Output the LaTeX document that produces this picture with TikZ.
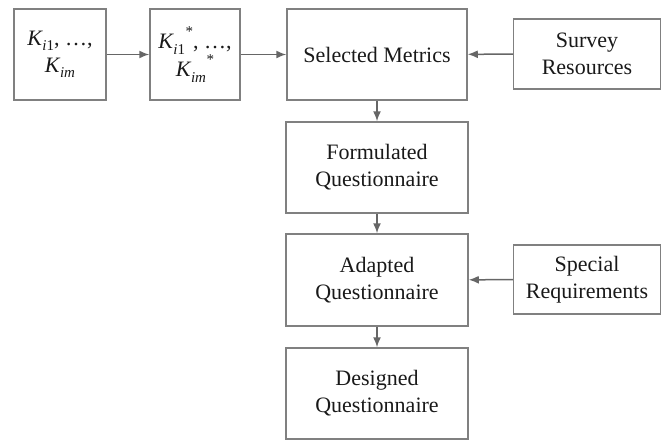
\documentclass[tikz,border=0pt]{standalone}
\usepackage{fontspec}
\setmainfont{Liberation Serif}
\newfontfamily\tnr{Liberation Serif}
\usetikzlibrary{arrows.meta}
\newcommand{\Ksub}[1]{\textit{K}\kern-0.5pt\raisebox{-0.25em}{\fontsize{15}{15}\selectfont #1}}
\newcommand{\Kstar}[1]{\textit{K}\kern-0.5pt\raisebox{-0.25em}{\fontsize{15}{15}\selectfont #1}\kern0.5pt\raisebox{0.55em}{\fontsize{15}{15}\selectfont *}}
\begin{document}
\begin{tikzpicture}[x=1pt,y=-1pt,
  box/.style={draw=black!50,line width=1.5pt,rectangle,inner sep=0pt,align=center,
    font=\tnr\fontsize{22}{27}\selectfont,text=black!90},
  conn/.style={draw=black!60,line width=1.5pt,-{Latex[length=10pt,width=8pt]}}]
\useasboundingbox (0,0) rectangle (661,440);
\node[box,minimum width=92pt,minimum height=91pt] (k1) at (60,54.5) {\Ksub{\textit{i}1}, …,\\ \Ksub{\textit{im}}};
\node[box,minimum width=90pt,minimum height=91pt] (k2) at (195,54.5) {\Kstar{\textit{i}1}, …,\\ \Kstar{\textit{im}}};
\node[box,minimum width=180pt,minimum height=91pt] (sm) at (377,54.5) {Selected Metrics};
\node[box,minimum width=147pt,minimum height=70pt] (sr) at (587,54) {Survey\\Resources};
\node[box,minimum width=182pt,minimum height=91pt] (fq) at (377,167.5) {Formulated\\Questionnaire};
\node[box,minimum width=182pt,minimum height=92pt] (aq) at (377,280) {Adapted\\Questionnaire};
\node[box,minimum width=147pt,minimum height=69pt] (sp) at (587,279.5) {Special\\Requirements};
\node[box,minimum width=182pt,minimum height=91pt] (dq) at (377,393.5) {Designed\\Questionnaire};
\draw[conn] (k1) -- (k2);
\draw[conn] (k2) -- (sm);
\draw[conn] (sr) -- (sm);
\draw[conn] (sm) -- (fq);
\draw[conn] (fq) -- (aq);
\draw[conn] (sp) -- (aq);
\draw[conn] (aq) -- (dq);
\end{tikzpicture}
\end{document}
